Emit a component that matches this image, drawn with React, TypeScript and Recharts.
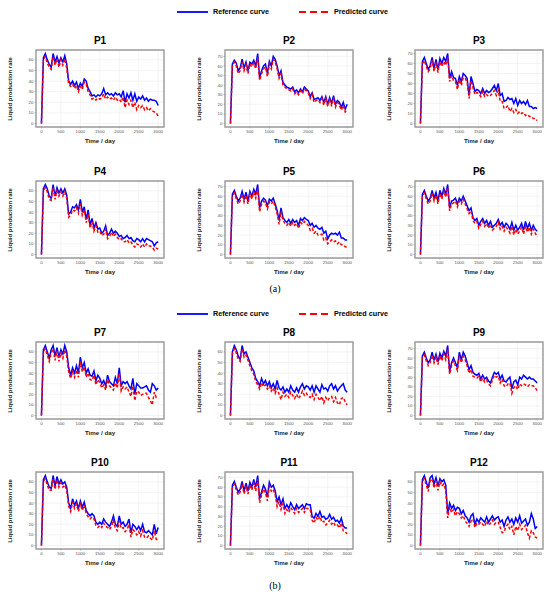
import React from "react";
import { LineChart, Line, XAxis, YAxis, CartesianGrid, ReferenceArea } from "recharts";

const DAYS = [0, 50, 100, 150, 200, 250, 300, 350, 400, 450, 500, 550, 600, 650, 700, 750, 800, 850, 900, 950, 1000, 1050, 1100, 1150, 1200, 1250, 1300, 1350, 1400, 1450, 1500, 1550, 1600, 1650, 1700, 1750, 1800, 1850, 1900, 1950, 2000, 2050, 2100, 2150, 2200, 2250, 2300, 2350, 2400, 2450, 2500, 2550, 2600, 2650, 2700, 2750, 2800, 2850, 2900, 2950, 3000];
const X_TICKS = [0, 500, 1000, 1500, 2000, 2500, 3000];
const Y_TICKS = [0, 10, 20, 30, 40, 50, 60, 70];

const P1_REF = [0, 62, 66, 60, 56, 53, 66, 58, 63, 57, 62, 58, 64, 56, 40, 37, 40, 36, 39, 33, 38, 35, 42, 40, 33, 30, 26, 27, 25, 27, 26, 28, 33, 27, 29, 27, 28, 26, 29, 27, 28, 25, 31, 20, 28, 24, 29, 22, 28, 21, 25, 23, 26, 22, 24, 21, 23, 22, 22, 21, 17];
const P1_PRED = [0, 60, 63, 57, 53, 51, 63, 55, 61, 53, 60, 55, 61, 52, 37, 35, 37, 33, 36, 30, 35, 32, 39, 37, 30, 27, 23, 24, 22, 24, 23, 24, 28, 23, 25, 23, 24, 22, 25, 22, 23, 20, 25, 15, 22, 18, 22, 15, 20, 13, 17, 15, 17, 13, 15, 12, 14, 12, 11, 10, 7];

const P2_REF = [0, 62, 66, 63, 55, 58, 67, 58, 64, 55, 64, 62, 66, 60, 73, 48, 55, 60, 62, 52, 65, 60, 70, 67, 60, 50, 55, 43, 40, 38, 37, 36, 38, 33, 35, 32, 36, 33, 38, 36, 34, 28, 32, 25, 26, 27, 24, 28, 22, 28, 20, 27, 21, 29, 20, 24, 22, 17, 22, 15, 20];
const P2_PRED = [0, 60, 64, 60, 52, 55, 64, 55, 61, 52, 62, 59, 63, 57, 69, 45, 52, 57, 59, 49, 62, 57, 67, 64, 57, 47, 52, 40, 38, 36, 35, 34, 36, 31, 33, 30, 34, 31, 36, 34, 32, 26, 30, 22, 24, 25, 22, 26, 19, 26, 18, 25, 18, 27, 17, 22, 19, 14, 19, 12, 14];

const P3_REF = [0, 62, 66, 60, 54, 58, 66, 55, 64, 54, 65, 60, 66, 62, 70, 45, 52, 46, 45, 38, 47, 42, 50, 48, 45, 28, 47, 40, 32, 34, 33, 30, 35, 30, 33, 31, 32, 35, 38, 33, 40, 28, 30, 22, 23, 26, 24, 25, 20, 25, 18, 23, 20, 22, 19, 23, 17, 17, 15, 16, 15];
const P3_PRED = [0, 60, 63, 57, 52, 55, 63, 52, 61, 51, 62, 57, 62, 58, 66, 42, 48, 43, 42, 34, 44, 38, 46, 45, 41, 25, 43, 36, 29, 31, 30, 27, 32, 27, 29, 27, 28, 30, 33, 28, 33, 22, 22, 15, 16, 18, 12, 15, 11, 14, 10, 12, 10, 11, 8, 9, 7, 7, 5, 5, 3];

const P4_REF = [0, 62, 66, 62, 55, 53, 66, 55, 63, 58, 62, 58, 62, 56, 38, 40, 45, 44, 47, 42, 52, 40, 45, 33, 42, 28, 34, 25, 30, 24, 25, 20, 22, 27, 18, 20, 24, 20, 22, 20, 17, 18, 15, 16, 18, 15, 16, 13, 12, 15, 14, 12, 15, 12, 15, 14, 13, 12, 8, 11, 12];
const P4_PRED = [0, 60, 63, 59, 52, 51, 63, 52, 60, 55, 59, 55, 59, 53, 35, 37, 42, 41, 44, 39, 48, 37, 42, 30, 38, 25, 31, 22, 27, 21, 22, 18, 19, 24, 15, 17, 21, 17, 19, 16, 14, 15, 12, 12, 14, 11, 12, 9, 7, 10, 9, 7, 10, 7, 10, 8, 8, 7, 4, 6, 5];

const P5_REF = [0, 62, 66, 60, 55, 58, 65, 57, 64, 55, 65, 60, 67, 62, 72, 48, 55, 58, 56, 50, 57, 55, 58, 52, 45, 35, 48, 38, 35, 33, 36, 32, 36, 33, 35, 30, 37, 35, 38, 36, 35, 30, 32, 28, 30, 27, 26, 28, 22, 24, 16, 20, 22, 21, 22, 20, 23, 17, 17, 15, 15];
const P5_PRED = [0, 60, 63, 57, 52, 55, 62, 54, 61, 52, 62, 57, 64, 58, 68, 44, 52, 55, 53, 47, 54, 52, 55, 49, 42, 31, 44, 35, 32, 30, 33, 29, 33, 30, 32, 27, 33, 31, 34, 32, 30, 25, 27, 22, 24, 20, 20, 21, 15, 17, 11, 13, 15, 13, 14, 11, 13, 10, 10, 8, 7];

const P6_REF = [0, 62, 66, 60, 55, 58, 66, 58, 64, 55, 66, 60, 68, 62, 72, 48, 55, 56, 58, 52, 58, 55, 60, 55, 50, 45, 48, 38, 35, 37, 30, 34, 37, 32, 35, 30, 34, 28, 30, 32, 36, 30, 33, 28, 32, 30, 26, 33, 25, 30, 25, 28, 32, 25, 34, 27, 32, 25, 30, 26, 24];
const P6_PRED = [0, 60, 63, 57, 52, 55, 63, 55, 61, 52, 63, 57, 65, 59, 69, 45, 52, 53, 55, 49, 55, 52, 57, 52, 47, 42, 45, 35, 32, 34, 27, 31, 34, 29, 32, 27, 31, 25, 27, 29, 33, 26, 29, 24, 28, 26, 22, 29, 20, 26, 21, 24, 28, 21, 29, 23, 28, 21, 26, 22, 18];

const P7_REF = [0, 62, 66, 60, 54, 62, 66, 56, 64, 55, 62, 58, 66, 60, 45, 38, 45, 40, 47, 40, 55, 45, 50, 40, 44, 38, 37, 42, 33, 38, 35, 30, 33, 28, 38, 32, 30, 28, 36, 30, 45, 28, 32, 30, 32, 28, 25, 35, 20, 30, 28, 26, 26, 27, 28, 24, 22, 30, 28, 24, 26];
const P7_PRED = [0, 60, 63, 57, 51, 59, 63, 52, 61, 51, 59, 54, 62, 56, 41, 35, 41, 36, 43, 36, 51, 41, 46, 36, 40, 34, 33, 38, 29, 34, 31, 26, 29, 24, 34, 28, 26, 24, 31, 26, 40, 23, 27, 25, 27, 22, 18, 28, 14, 23, 22, 19, 20, 21, 21, 17, 14, 10, 22, 17, 18];

const P8_REF = [0, 60, 66, 62, 56, 53, 66, 58, 60, 55, 50, 45, 42, 35, 32, 28, 35, 30, 33, 28, 32, 26, 30, 25, 33, 26, 24, 27, 22, 25, 22, 28, 24, 22, 26, 22, 27, 30, 25, 28, 27, 24, 28, 22, 28, 25, 22, 29, 25, 26, 23, 28, 30, 25, 28, 23, 26, 28, 30, 24, 22];
const P8_PRED = [0, 58, 63, 59, 53, 51, 63, 55, 57, 52, 47, 42, 39, 32, 29, 25, 31, 27, 29, 25, 28, 23, 26, 21, 26, 20, 15, 22, 18, 20, 17, 22, 19, 16, 20, 16, 19, 23, 19, 21, 18, 17, 20, 15, 20, 17, 14, 18, 12, 17, 14, 17, 18, 13, 17, 12, 10, 16, 17, 13, 10];

const P9_REF = [0, 62, 66, 60, 55, 58, 66, 58, 64, 56, 65, 60, 67, 62, 73, 46, 55, 60, 55, 50, 66, 58, 66, 62, 55, 48, 52, 45, 43, 42, 44, 38, 42, 38, 40, 36, 34, 40, 45, 43, 45, 38, 42, 36, 35, 38, 40, 28, 35, 37, 32, 40, 38, 42, 40, 38, 40, 38, 38, 36, 34];
const P9_PRED = [0, 60, 63, 57, 52, 55, 63, 55, 61, 53, 62, 57, 64, 58, 69, 43, 52, 57, 52, 47, 62, 55, 62, 58, 52, 44, 48, 41, 40, 39, 41, 35, 39, 35, 37, 33, 31, 37, 42, 40, 41, 34, 38, 31, 30, 33, 34, 23, 29, 31, 27, 33, 31, 33, 32, 30, 32, 31, 31, 29, 26];

const P10_REF = [0, 62, 66, 60, 55, 54, 66, 56, 65, 58, 62, 58, 60, 55, 40, 35, 44, 38, 42, 35, 42, 36, 41, 33, 30, 28, 30, 28, 22, 20, 22, 20, 25, 22, 20, 18, 22, 28, 20, 18, 28, 20, 22, 18, 20, 25, 12, 20, 18, 15, 18, 14, 20, 13, 12, 14, 12, 10, 20, 11, 17];
const P10_PRED = [0, 60, 63, 57, 52, 52, 63, 53, 62, 55, 59, 55, 57, 52, 37, 32, 41, 35, 39, 32, 39, 33, 38, 30, 27, 25, 27, 25, 19, 17, 19, 17, 21, 18, 17, 15, 18, 24, 16, 14, 23, 16, 17, 13, 15, 20, 8, 15, 13, 10, 13, 9, 14, 8, 7, 9, 7, 5, 14, 6, 5];

const P11_REF = [0, 62, 66, 60, 55, 58, 66, 56, 64, 56, 65, 60, 68, 60, 72, 48, 55, 62, 58, 50, 65, 60, 62, 56, 45, 50, 42, 48, 38, 42, 38, 44, 40, 37, 42, 38, 40, 42, 38, 43, 42, 42, 30, 28, 33, 30, 35, 29, 30, 27, 28, 32, 27, 29, 25, 26, 23, 28, 20, 18, 18];
const P11_PRED = [0, 60, 63, 57, 52, 55, 63, 53, 61, 53, 62, 57, 64, 56, 68, 44, 52, 58, 54, 46, 61, 56, 58, 52, 40, 45, 37, 43, 33, 37, 34, 39, 36, 33, 38, 34, 36, 38, 34, 38, 38, 37, 26, 23, 29, 26, 30, 24, 25, 21, 23, 26, 22, 24, 20, 21, 18, 23, 15, 14, 12];

const P12_REF = [0, 62, 66, 60, 54, 64, 66, 58, 64, 56, 63, 60, 62, 57, 30, 40, 35, 38, 33, 36, 35, 30, 33, 28, 26, 22, 28, 30, 20, 25, 22, 26, 24, 22, 27, 22, 25, 28, 24, 26, 27, 22, 24, 18, 24, 27, 22, 25, 20, 26, 22, 28, 21, 23, 25, 19, 22, 30, 25, 16, 18];
const P12_PRED = [0, 60, 63, 57, 51, 61, 63, 54, 61, 52, 60, 56, 58, 52, 26, 36, 31, 34, 28, 32, 30, 26, 28, 23, 21, 18, 23, 25, 17, 21, 20, 22, 20, 18, 23, 19, 21, 24, 20, 22, 22, 17, 12, 13, 18, 20, 15, 18, 10, 18, 14, 20, 15, 17, 19, 12, 7, 14, 12, 8, 7];

const PANEL_NAMES = ["P1", "P2", "P3", "P4", "P5", "P6", "P7", "P8", "P9", "P10", "P11", "P12"];
const REF_SERIES = [P1_REF, P2_REF, P3_REF, P4_REF, P5_REF, P6_REF, P7_REF, P8_REF, P9_REF, P10_REF, P11_REF, P12_REF];
const PRED_SERIES = [P1_PRED, P2_PRED, P3_PRED, P4_PRED, P5_PRED, P6_PRED, P7_PRED, P8_PRED, P9_PRED, P10_PRED, P11_PRED, P12_PRED];

const COL_LEFT = [36, 225, 415];
const ROW_TOP = [50, 181, 342, 472];
const BOX_W = 128;
const BOX_H = 77;
const X_DOMAIN: [number, number] = [-140, 3150];

const FONT = "'Liberation Sans', Arial, sans-serif";

function Panel({ idx }: { idx: number }) {
  const col = idx % 3;
  const row = Math.floor(idx / 3);
  const boxLeft = COL_LEFT[col];
  const boxTop = ROW_TOP[row];
  const ref = REF_SERIES[idx];
  const pred = PRED_SERIES[idx];
  const data = DAYS.map((d, i) => ({ day: d, ref: ref[i], pred: pred[i] }));
  const maxV = Math.max(...ref, ...pred);
  const yDomain: [number, number] = [-maxV * 0.05, maxV * 1.05];
  const yAxisW = 30;
  const W = yAxisW + BOX_W + 4;
  const topM = 5;
  const xAxisH = 12;
  const H = topM + BOX_H + xAxisH + 4;
  return (
    <>
      <div
        style={{
          position: "absolute",
          left: boxLeft,
          width: BOX_W,
          top: boxTop - 15,
          textAlign: "center",
          fontFamily: FONT,
          fontWeight: "bold",
          fontSize: 10,
          lineHeight: "12px",
          color: "#000",
        }}
      >
        {PANEL_NAMES[idx]}
      </div>
      <div
        style={{
          position: "absolute",
          left: boxLeft - 26 - 50,
          width: 100,
          top: boxTop + BOX_H / 2 - 4,
          height: 8,
          lineHeight: "8px",
          textAlign: "center",
          transform: "rotate(-90deg)",
          fontFamily: FONT,
          fontWeight: "bold",
          fontSize: 6,
          color: "#222",
          whiteSpace: "nowrap",
        }}
      >
        Liquid production rate
      </div>
      <div
        style={{
          position: "absolute",
          left: boxLeft,
          width: BOX_W,
          top: boxTop + BOX_H + 10,
          textAlign: "center",
          fontFamily: FONT,
          fontWeight: "bold",
          fontSize: 6.2,
          lineHeight: "8px",
          color: "#222",
        }}
      >
        Time / day
      </div>
      <div style={{ position: "absolute", left: boxLeft - yAxisW, top: boxTop - topM }}>
        <LineChart
          width={W}
          height={H}
          data={data}
          margin={{ top: topM, right: W - yAxisW - BOX_W, left: 0, bottom: H - topM - BOX_H - xAxisH }}
        >
          <CartesianGrid stroke="#ececec" strokeWidth={0.6} />
          <XAxis
            dataKey="day"
            type="number"
            domain={X_DOMAIN}
            ticks={X_TICKS}
            height={xAxisH}
            tickSize={1.5}
            tickMargin={1}
            axisLine={false}
            tick={{ fontSize: 4.4, fill: "#555", fontFamily: FONT }}
            tickLine={{ stroke: "#888", strokeWidth: 0.5 }}
            interval={0}
            allowDataOverflow
          />
          <YAxis
            type="number"
            domain={yDomain}
            ticks={Y_TICKS.filter((t) => t <= yDomain[1])}
            width={yAxisW}
            tickSize={1.5}
            tickMargin={1}
            axisLine={false}
            tick={{ fontSize: 4.4, fill: "#555", fontFamily: FONT }}
            tickLine={{ stroke: "#888", strokeWidth: 0.5 }}
            interval={0}
            allowDataOverflow
          />
          <Line
            dataKey="ref"
            stroke="#0000ff"
            strokeWidth={1.5}
            dot={false}
            isAnimationActive={false}
            type="linear"
          />
          <Line
            dataKey="pred"
            stroke="#ff0000"
            strokeWidth={1.5}
            strokeDasharray="3 2"
            dot={false}
            isAnimationActive={false}
            type="linear"
          />
          <ReferenceArea
            x1={X_DOMAIN[0]}
            x2={X_DOMAIN[1]}
            y1={yDomain[0]}
            y2={yDomain[1]}
            fill="none"
            stroke="#9a9a9a"
            strokeWidth={1.4}
            ifOverflow="visible"
          />
        </LineChart>
      </div>
    </>
  );
}

function LegendRow({ top }: { top: number }) {
  const text: React.CSSProperties = {
    position: "absolute",
    top: top - 5,
    fontFamily: FONT,
    fontWeight: "bold",
    fontSize: 7.2,
    lineHeight: "10px",
    color: "#000",
    whiteSpace: "nowrap",
  };
  return (
    <>
      <svg style={{ position: "absolute", left: 176, top: top - 3 }} width={34} height={6}>
        <line x1={1} y1={3} x2={32} y2={3} stroke="#0000ff" strokeWidth={1.8} />
      </svg>
      <div style={{ ...text, left: 213 }}>Reference curve</div>
      <svg style={{ position: "absolute", left: 298, top: top - 3 }} width={34} height={6}>
        <line x1={1} y1={3} x2={31} y2={3} stroke="#ff0000" strokeWidth={1.8} strokeDasharray="7 4" />
      </svg>
      <div style={{ ...text, left: 334 }}>Predicted curve</div>
    </>
  );
}

export default function App() {
  return (
    <div
      style={{
        position: "absolute",
        left: 0,
        top: 0,
        width: 550,
        height: 595,
        background: "#fff",
        overflow: "hidden",
      }}
    >
      <LegendRow top={12} />
      <LegendRow top={314} />
      {PANEL_NAMES.map((_, i) => (
        <Panel key={i} idx={i} />
      ))}
      <div
        style={{
          position: "absolute",
          left: 255,
          width: 40,
          top: 282,
          textAlign: "center",
          fontFamily: "'Liberation Serif', 'DejaVu Serif', serif",
          fontSize: 10,
          lineHeight: "14px",
          color: "#000",
        }}
      >
        (a)
      </div>
      <div
        style={{
          position: "absolute",
          left: 255,
          width: 40,
          top: 579,
          textAlign: "center",
          fontFamily: "'Liberation Serif', 'DejaVu Serif', serif",
          fontSize: 10,
          lineHeight: "14px",
          color: "#000",
        }}
      >
        (b)
      </div>
    </div>
  );
}
